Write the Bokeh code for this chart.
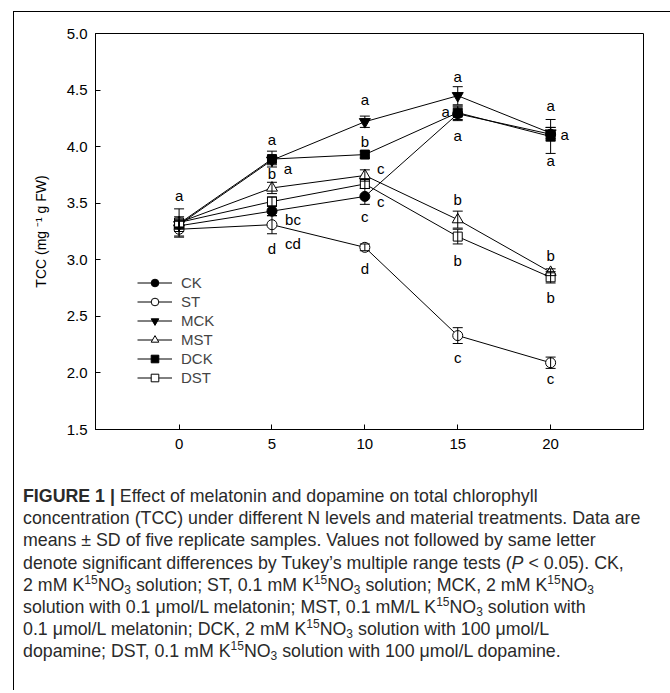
from bokeh.plotting import figure
from bokeh.models import (ColumnDataSource, Whisker, TeeHead, Legend, LegendItem,
                          Label, FixedTicker, NumeralTickFormatter, Div)
from bokeh.layouts import column
from bokeh.embed import file_html
from bokeh.resources import INLINE

# ---------------- data ----------------
days = [0, 5, 10, 15, 20]
series_names = ["CK", "ST", "MCK", "MST", "DCK", "DST"]
CK = [3.30, 3.43, 3.56, 4.29, 4.11]
CK_sd = [0.05, 0.04, 0.07, 0.06, 0.06]
ST = [3.27, 3.31, 3.11, 2.33, 2.09]
ST_sd = [0.07, 0.08, 0.03, 0.07, 0.05]
MCK = [3.31, 3.88, 4.22, 4.45, 4.12]
MCK_sd = [0.04, 0.04, 0.05, 0.08, 0.05]
MST = [3.33, 3.635, 3.745, 3.355, 2.89]
MST_sd = [0.05, 0.05, 0.05, 0.075, 0.03]
DCK = [3.32, 3.89, 3.93, 4.30, 4.09]
DCK_sd = [0.04, 0.07, 0.03, 0.06, 0.15]
DST = [3.33, 3.515, 3.67, 3.205, 2.845]
DST_sd = [0.12, 0.04, 0.04, 0.065, 0.05]
y_ticks = [1.5, 2.0, 2.5, 3.0, 3.5, 4.0, 4.5, 5.0]
x_ticks = [0, 5, 10, 15, 20]

# significance letters: (day, series, letter)
letter_day = [0, 5, 5, 5, 5, 5, 5, 10, 10, 10, 10, 10, 10, 15, 15, 15, 15, 15, 15, 20, 20, 20, 20, 20, 20]
letter_series = ["DST", "DCK", "DCK", "MST", "CK", "ST", "ST",
                 "MCK", "DCK", "MST", "CK", "CK", "ST",
                 "MCK", "CK", "CK", "MST", "DST", "ST",
                 "CK", "CK", "CK", "MST", "DST", "ST"]
letter_text = ["a", "a", "a", "b", "bc", "cd", "d",
               "a", "b", "c", "c", "c", "d",
               "a", "a", "a", "b", "b", "c",
               "a", "a", "a", "b", "b", "c"]
# placement offsets in screen pixels (dx right, dy down) -- styling only
letter_offsets = [(0, -27), (0, -20), (16, 9), (0, -14), (21, 8), (21, 19), (0, 24),
                  (0, -22), (0, -13), (16, -7), (16, 5), (0, 20), (0, 21),
                  (0, -19), (-12, -2), (0, 22), (0, -20), (0, 24), (0, 22),
                  (0, -29), (14, 0), (0, 26), (0, -17), (0, 20), (0, 16)]

values = {"CK": (CK, CK_sd), "ST": (ST, ST_sd), "MCK": (MCK, MCK_sd),
          "MST": (MST, MST_sd), "DCK": (DCK, DCK_sd), "DST": (DST, DST_sd)}
styles = {"CK": ("circle", "black", 10), "ST": ("circle", "white", 10),
          "MCK": ("inverted_triangle", "black", 11), "MST": ("triangle", "white", 11),
          "DCK": ("square", "black", 9), "DST": ("square", "white", 9)}

FONT = "Liberation Sans"

p = figure(width=648, height=458, x_range=(-4.5, 25), y_range=(1.5, 5.0),
           output_backend="svg", toolbar_location=None,
           min_border_left=81, min_border_right=19, min_border_top=21, min_border_bottom=41)
p.xgrid.visible = False
p.ygrid.visible = False
p.outline_line_color = "black"
p.outline_line_width = 1
p.background_fill_color = "white"
p.border_fill_color = "white"

for ax in (p.xaxis[0], p.yaxis[0]):
    ax.axis_line_color = "black"
    ax.major_tick_in = 5
    ax.major_tick_out = 0
    ax.minor_tick_in = 0
    ax.minor_tick_out = 0
    ax.major_tick_line_color = "black"
    ax.major_label_text_font = FONT
    ax.major_label_text_font_size = "15px"
    ax.major_label_text_color = "black"
    ax.axis_label_text_font = FONT
    ax.axis_label_text_font_style = "normal"
    ax.axis_label_text_font_size = "14px"
    ax.axis_label_text_color = "black"

p.xaxis.ticker = FixedTicker(ticks=x_ticks)
p.yaxis.ticker = FixedTicker(ticks=y_ticks)
p.yaxis.formatter = NumeralTickFormatter(format="0.0")
p.xaxis.major_label_standoff = 9
p.yaxis.major_label_standoff = 8
p.yaxis.axis_label = "TCC (mg \u207b\u00b9 g FW)"
p.yaxis.axis_label_standoff = 15

line_r = {}
for name in series_names:
    v, sd = values[name]
    src = ColumnDataSource(dict(x=days, y=v))
    line_r[name] = p.line("x", "y", source=src, line_color="black", line_width=1)

for name in series_names:
    v, sd = values[name]
    src = ColumnDataSource(dict(x=days, upper=[a + b for a, b in zip(v, sd)],
                                lower=[a - b for a, b in zip(v, sd)]))
    w = Whisker(base="x", upper="upper", lower="lower", source=src,
                line_color="black", line_width=1,
                upper_head=TeeHead(size=10, line_color="black", line_width=1),
                lower_head=TeeHead(size=10, line_color="black", line_width=1))
    w.level = "glyph"
    p.add_layout(w)

mark_r = {}
for name in series_names:
    v, sd = values[name]
    marker, fill, size = styles[name]
    src = ColumnDataSource(dict(x=days, y=v))
    mark_r[name] = p.scatter("x", "y", source=src, marker=marker, size=size,
                             fill_color=fill, line_color="black", line_width=1)

for d, s, t, (dx, dy) in zip(letter_day, letter_series, letter_text, letter_offsets):
    v, sd = values[s]
    yv = v[days.index(d)]
    p.add_layout(Label(x=d, y=yv, x_offset=dx, y_offset=-dy, text=t,
                       text_align="center", text_baseline="middle",
                       text_font=FONT, text_font_size="15px", text_color="black"))

legend = Legend(items=[LegendItem(label=n, renderers=[line_r[n], mark_r[n]]) for n in series_names],
                location=(42, 42), glyph_width=35, glyph_height=19, label_height=19,
                spacing=0, padding=0, margin=0, label_standoff=9,
                label_text_font=FONT, label_text_font_size="15px",
                border_line_alpha=0, background_fill_alpha=0)
p.add_layout(legend)

sup = '<sup style="font-size:12px;line-height:0;vertical-align:7px">15</sup>'
sub = '<sub style="font-size:12px;line-height:0;vertical-align:-3px">3</sub>'
K = "K" + sup + "NO" + sub
caption_lines = [
    "<b>FIGURE 1 |</b> Effect of melatonin and dopamine on total chlorophyll",
    "concentration (TCC) under different N levels and material treatments. Data are",
    "means \u00b1 SD of five replicate samples. Values not followed by same letter",
    "denote significant differences by Tukey\u2019s multiple range tests (<i>P</i> &lt; 0.05). CK,",
    "2 mM " + K + " solution; ST, 0.1 mM " + K + " solution; MCK, 2 mM " + K,
    "solution with 0.1 \u03bcmol/L melatonin; MST, 0.1 mM/L " + K + " solution with",
    "0.1 \u03bcmol/L melatonin; DCK, 2 mM " + K + " solution with 100 \u03bcmol/L",
    "dopamine; DST, 0.1 mM " + K + " solution with 100 \u03bcmol/L dopamine.",
]
html = ('<div style="font-family:\'Liberation Sans\',Arial,sans-serif;font-size:17.8px;'
        'line-height:22.2px;color:#2a2a2a;white-space:nowrap;padding:15px 0 0 9px;">'
        + "<br>".join(caption_lines) + "</div>")
cap = Div(text=html, width=656, height=220, margin=(0, 0, 0, 0))

lay = column(p, cap, margin=(11, 0, 0, 13), spacing=0,
             styles={"border-top": "1px solid #000", "border-left": "1px solid #000"})

open("out.html", "w").write(file_html(lay, INLINE))
